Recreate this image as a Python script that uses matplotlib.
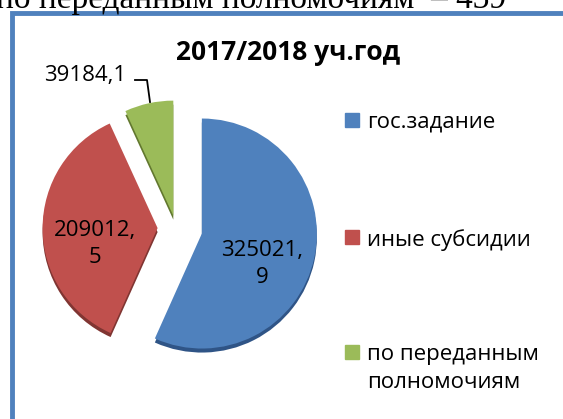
import matplotlib
matplotlib.use('Agg')
from matplotlib import pyplot as plt
from matplotlib.patches import Rectangle

labels = ['гос.задание', 'иные субсидии', 'по переданным\nполномочиям']
values = [325021.9, 209012.5, 39184.1]
value_text = ['325021,\n9', '209012,\n5', '39184,1']
colors = ['#4F81BD', '#C0504D', '#9BBB59']
side_colors = ['#2F5486', '#803532', '#62782F']
explode = [0.23, 0.16, 0.11]

W, H = 563, 419
R = 115.0          # pie radius in pixels
cx, cy = 176, 228  # pie centre in pixels (from top)

plt.rcParams['font.family'] = ['Open Sans', 'DejaVu Sans']
fig = plt.figure(figsize=(W / 100, H / 100), dpi=100)
ax = fig.add_axes([0, 0, 1, 1])

# darker copy below gives the 3d side of the slices
ax.pie(values, explode=explode, colors=side_colors, startangle=90,
       counterclock=False, center=(0.0, -0.035))
wedges, _ = ax.pie(values, explode=explode, colors=colors, startangle=90,
                   counterclock=False)

ax.set_aspect('auto')
ax.set_xlim(-cx / R, (W - cx) / R)
ax.set_ylim(-(H - cy) / R, cy / R)
ax.axis('off')

def px(x, y):
    return (x - cx) / R, (cy - y) / R

fs = 16
ax.text(*px(262, 264), value_text[0], ha='center', va='center', fontsize=fs,
        linespacing=1.4)
ax.text(*px(95, 244), value_text[1], ha='center', va='center', fontsize=fs,
        linespacing=1.4)
ax.text(*px(85, 76), value_text[2], ha='center', va='center', fontsize=fs)
lx, ly = zip(px(135, 80), px(147, 80), px(150, 102))
ax.plot(lx, ly, color='black', lw=1.3)

fig.text(288 / W, 1 - 53 / H, '2017/2018 уч.год', ha='center', va='center',
         fontsize=19, fontweight='bold')

# legend drawn by hand so the square sits next to the first line
leg_y = [120, 237, 352]
for lab, col, y in zip(labels, colors, leg_y):
    fig.patches.append(Rectangle((345 / W, 1 - (y + 7) / H), 14 / W, 14 / H,
                                 transform=fig.transFigure, color=col))
    fig.text(367 / W, 1 - (y - 8) / H, lab, ha='left', va='top',
             fontsize=fs, linespacing=1.45)

# frame of the chart area
fig.patches.append(Rectangle((12 / W, -0.1), 1.2, 1.1 - 13.5 / H,
                             transform=fig.transFigure, fill=False,
                             edgecolor='#4F81BD', lw=3.5))

# cut-off line of the document text above the chart
fig.text(-4 / W, 1 - 8 / H, 'по переданным полномочиям  – 439',
         family='Liberation Serif', fontsize=24, ha='left', va='baseline')

fig.savefig('out.png', dpi=100)
